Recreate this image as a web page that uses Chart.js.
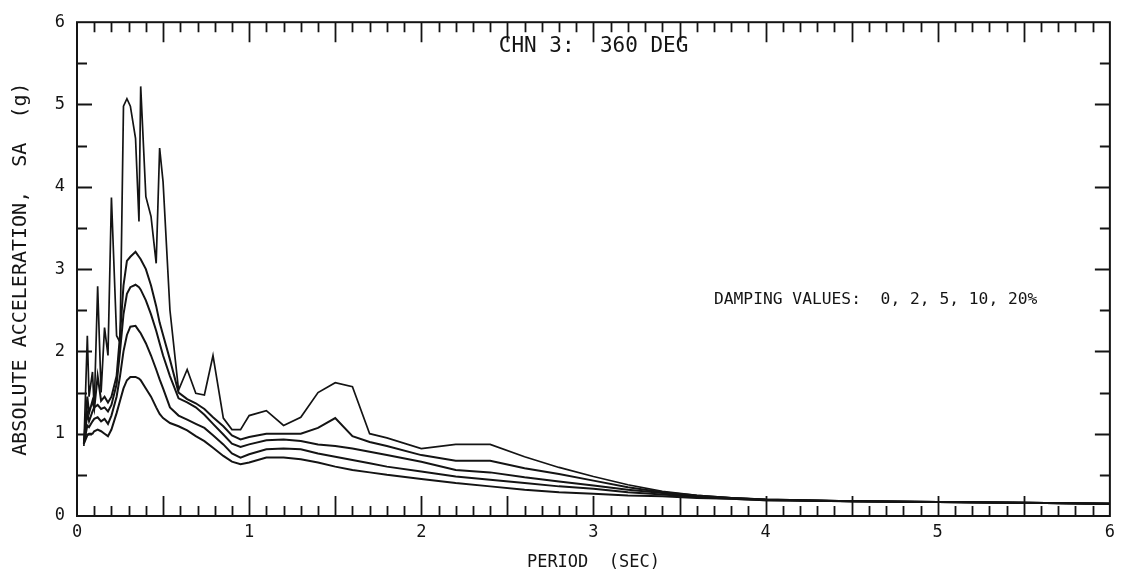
<!DOCTYPE html>
<html>
<head>
<meta charset="utf-8">
<script src="https://cdn.jsdelivr.net/npm/chart.js@4/dist/chart.umd.min.js"></script>
<style>
  html, body { margin: 0; padding: 0; background: #fff; }
</style>
</head>
<body>
<canvas id="myChart" width="1121" height="575"></canvas>
<script>
// spectral periods (sec), shared by every damping curve
const period = [0.04, 0.06, 0.07, 0.09, 0.10, 0.12, 0.14, 0.16, 0.18, 0.20,
  0.23, 0.25, 0.27, 0.29, 0.31, 0.34, 0.36, 0.37, 0.40, 0.43,
  0.46, 0.48, 0.50, 0.54, 0.59, 0.64, 0.69, 0.74, 0.79, 0.85,
  0.90, 0.95, 1.00, 1.10, 1.20, 1.30, 1.40, 1.50, 1.60, 1.70,
  1.80, 2.00, 2.20, 2.40, 2.60, 2.80, 3.00, 3.20, 3.40, 3.60,
  3.80, 4.00, 4.50, 5.00, 5.50, 6.00];

// absolute acceleration SA (g) for 0, 2, 5, 10, 20% damping
const sa0 = [0.85, 2.19, 1.45, 1.75, 1.30, 2.79, 1.50, 2.29, 1.95, 3.87,
  2.19, 2.11, 4.98, 5.07, 4.98, 4.59, 3.58, 5.22, 3.88, 3.64,
  3.07, 4.47, 4.06, 2.50, 1.53, 1.78, 1.49, 1.47, 1.95, 1.19,
  1.05, 1.05, 1.22, 1.28, 1.10, 1.20, 1.50, 1.62, 1.57, 1.00,
  0.95, 0.82, 0.87, 0.87, 0.72, 0.59, 0.48, 0.38, 0.30, 0.25,
  0.22, 0.20, 0.18, 0.17, 0.16, 0.15];
const sa2 = [0.88, 1.45, 1.25, 1.40, 1.30, 1.70, 1.40, 1.45, 1.38, 1.45,
  1.70, 2.20, 2.80, 3.10, 3.15, 3.21, 3.15, 3.12, 3.00, 2.80,
  2.55, 2.35, 2.20, 1.90, 1.50, 1.42, 1.37, 1.30, 1.20, 1.09,
  0.98, 0.93, 0.96, 1.00, 1.00, 1.00, 1.07, 1.19, 0.97, 0.90,
  0.85, 0.74, 0.67, 0.67, 0.58, 0.51, 0.43, 0.35, 0.29, 0.25,
  0.22, 0.20, 0.18, 0.17, 0.16, 0.15];
const sa5 = [0.88, 1.25, 1.15, 1.27, 1.32, 1.35, 1.30, 1.32, 1.27, 1.35,
  1.60, 2.00, 2.45, 2.70, 2.78, 2.81, 2.78, 2.75, 2.62, 2.45,
  2.25, 2.10, 1.95, 1.70, 1.43, 1.38, 1.32, 1.23, 1.12, 0.99,
  0.88, 0.84, 0.87, 0.92, 0.93, 0.91, 0.87, 0.85, 0.82, 0.78,
  0.74, 0.66, 0.56, 0.53, 0.47, 0.42, 0.37, 0.32, 0.28, 0.24,
  0.22, 0.20, 0.18, 0.17, 0.16, 0.15];
const sa10 = [0.88, 1.10, 1.08, 1.15, 1.18, 1.20, 1.15, 1.18, 1.12, 1.22,
  1.45, 1.70, 2.00, 2.20, 2.30, 2.31, 2.25, 2.22, 2.10, 1.95,
  1.78, 1.66, 1.55, 1.32, 1.22, 1.17, 1.12, 1.07, 0.98, 0.87,
  0.76, 0.71, 0.75, 0.81, 0.82, 0.81, 0.76, 0.72, 0.68, 0.64,
  0.60, 0.54, 0.48, 0.44, 0.40, 0.36, 0.33, 0.29, 0.26, 0.23,
  0.21, 0.19, 0.18, 0.17, 0.16, 0.15];
const sa20 = [0.88, 0.98, 1.00, 1.00, 1.03, 1.05, 1.03, 1.00, 0.97, 1.05,
  1.25, 1.40, 1.55, 1.65, 1.69, 1.69, 1.67, 1.65, 1.55, 1.45,
  1.32, 1.24, 1.19, 1.13, 1.09, 1.04, 0.97, 0.91, 0.83, 0.73,
  0.66, 0.63, 0.65, 0.71, 0.71, 0.69, 0.65, 0.60, 0.56, 0.53,
  0.50, 0.45, 0.40, 0.36, 0.32, 0.29, 0.27, 0.25, 0.24, 0.22,
  0.21, 0.19, 0.18, 0.17, 0.16, 0.15];

const dampingLabels = ['0%', '2%', '5%', '10%', '20%'];
const seriesValues = [sa0, sa2, sa5, sa10, sa20];

const FONT = '"DejaVu Sans Mono", monospace';
const INK = '#141414';

// box with inward ticks on all four sides, plus the two captions
const frameTicks = {
  id: 'frameTicks',
  afterDraw(chart) {
    const { ctx, chartArea: a, scales: { x, y } } = chart;
    ctx.save();
    ctx.strokeStyle = INK;
    ctx.lineWidth = 2;
    ctx.strokeRect(a.left, a.top, a.right - a.left, a.bottom - a.top);

    ctx.lineWidth = 1.8;
    ctx.beginPath();
    for (let i = 1; i < 60; i++) {
      const px = Math.round(x.getPixelForValue(i / 10)) + 0.5;
      const len = i % 5 === 0 ? 20 : 10;
      ctx.moveTo(px, a.bottom); ctx.lineTo(px, a.bottom - len);
      ctx.moveTo(px, a.top); ctx.lineTo(px, a.top + len);
    }
    for (let j = 1; j < 12; j++) {
      const py = Math.round(y.getPixelForValue(j / 2)) + 0.5;
      const len = j % 2 === 0 ? 15 : 10;
      ctx.moveTo(a.left, py); ctx.lineTo(a.left + len, py);
      ctx.moveTo(a.right, py); ctx.lineTo(a.right - len, py);
    }
    ctx.stroke();

    ctx.fillStyle = INK;
    ctx.textBaseline = 'middle';
    ctx.textAlign = 'left';
    ctx.font = '21px ' + FONT;
    ctx.fillText('CHN 3:  360 DEG', x.getPixelForValue(2.45), 47);
    ctx.font = '16.3px ' + FONT;
    ctx.fillText('DAMPING VALUES:  0, 2, 5, 10, 20%', x.getPixelForValue(3.7), y.getPixelForValue(2.63));
    ctx.restore();
  }
};

const ctx = document.getElementById('myChart').getContext('2d');

const myChart = new Chart(ctx, {
  type: 'line',
  data: {
    datasets: seriesValues.map((vals, k) => ({
      label: dampingLabels[k],
      data: period.map((p, i) => ({ x: p, y: vals[i] })),
      borderColor: INK,
      borderWidth: k === 0 ? 1.7 : 2,
      pointRadius: 0,
      tension: 0,
      fill: false
    }))
  },
  options: {
    responsive: false,
    animation: false,
    layout: { padding: { top: 15, right: 6, left: 0, bottom: 0 } },
    plugins: {
      legend: { display: false },
      tooltip: { enabled: false }
    },
    scales: {
      x: {
        type: 'linear',
        min: 0,
        max: 6,
        ticks: { stepSize: 1, color: INK, font: { family: FONT, size: 17 }, padding: 6, maxRotation: 0 },
        grid: { display: false, drawTicks: false },
        border: { display: false },
        title: { display: true, text: 'PERIOD  (SEC)', color: INK, font: { family: FONT, size: 17 }, padding: { top: 0, bottom: 2 } },
        afterFit(s) { s.height = 59; }
      },
      y: {
        min: 0,
        max: 6,
        ticks: { stepSize: 1, color: INK, font: { family: FONT, size: 17 }, padding: 12 },
        grid: { display: false, drawTicks: false },
        border: { display: false },
        title: { display: true, text: 'ABSOLUTE ACCELERATION,  SA  (g)', color: INK, font: { family: FONT, size: 20 }, padding: { top: 9, bottom: 0 } },
        afterFit(s) { s.width = 77; }
      }
    }
  },
  plugins: [frameTicks]
});
</script>
</body>
</html>
